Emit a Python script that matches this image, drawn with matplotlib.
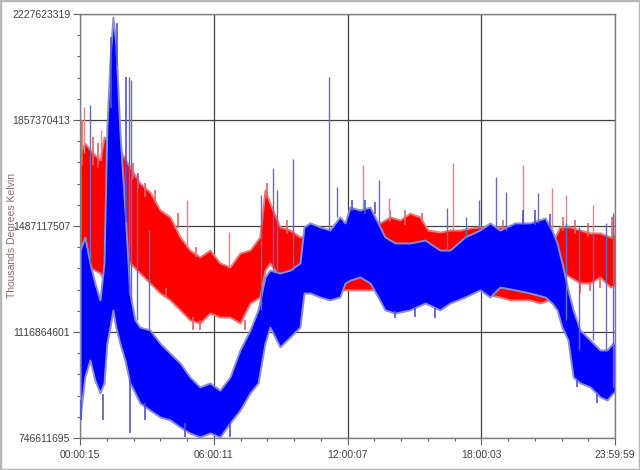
import matplotlib
matplotlib.use("Agg")
import matplotlib.pyplot as plt
import numpy as np
from matplotlib.ticker import AutoMinorLocator
from matplotlib.patches import Rectangle

# ---- data (time in hours, values in millions) ----
red_t = [0.01, 0.22, 0.45, 0.67, 0.90, 1.08, 1.35, 1.79, 2.24, 2.69, 3.14, 3.59, 4.04, 4.49,
         4.93, 5.38, 5.83, 6.28, 6.73, 7.18, 7.63, 8.07, 8.30, 8.52, 8.97, 9.42, 9.87, 10.32,
         10.77, 11.21, 11.66, 12.11, 12.56, 13.01, 13.46, 13.91, 14.36, 14.80, 15.25, 15.61,
         16.15, 16.60, 17.05, 17.49, 17.94, 18.39, 18.84, 19.29, 19.74, 20.19, 20.63, 21.08,
         21.31, 21.53, 21.98, 22.43, 22.88, 23.33, 23.78, 24.0]
red_high = [1742, 1777, 1753, 1735, 1718, 1798, 1777, 1753, 1693, 1637, 1606, 1543, 1519, 1449,
            1403, 1379, 1403, 1358, 1344, 1393, 1403, 1449, 1613, 1567, 1484, 1473, 1449, 1456,
            1456, 1449, 1473, 1491, 1491, 1491, 1498, 1519, 1508, 1532, 1519, 1473,
            1466, 1473, 1473, 1480, 1484, 1484, 1484, 1480, 1480, 1473, 1473, 1466,
            1449, 1484, 1484, 1473, 1463, 1463, 1449, 1456]
red_low = [1403, 1361, 1340, 1333, 1323, 1298, 1403, 1428, 1358, 1323, 1288, 1253, 1229, 1194,
           1159, 1148, 1183, 1169, 1169, 1148, 1218, 1239, 1333, 1358, 1309, 1298, 1298, 1281,
           1264, 1264, 1264, 1264, 1264, 1264, 1264, 1281, 1281, 1288, 1288, 1316,
           1298, 1281, 1281, 1264, 1264, 1246, 1239, 1229, 1229, 1229, 1218, 1229,
           1288, 1333, 1309, 1288, 1288, 1309, 1274, 1281]

blue_t = [0.01, 0.22, 0.45, 0.67, 0.90, 1.08, 1.21, 1.35, 1.48, 1.61, 1.79, 2.02, 2.24, 2.47,
          2.69, 3.14, 3.59, 4.04, 4.49, 4.93, 5.38, 5.83, 6.28, 6.73, 7.18, 7.63, 7.99, 8.30,
          8.52, 8.97, 9.42, 9.87, 10.05, 10.32, 10.77, 11.21, 11.66, 11.89, 12.11, 12.56, 13.01,
          13.37, 13.68, 14.13, 14.80, 15.48, 16.15, 16.60, 17.27, 17.94, 18.39, 18.84, 19.51,
          20.19, 20.86, 21.17, 21.40, 21.62, 21.89, 22.12, 22.43, 22.88, 23.33, 23.64, 23.91, 24.0]
blue_high = [1403, 1449, 1358, 1288, 1229, 1358, 1833, 2067, 2217, 2126, 1822, 1543, 1253, 1159,
             1134, 1124, 1078, 1043, 1009, 960, 925, 939, 914, 960, 1054, 1124, 1194, 1309,
             1333, 1323, 1333, 1358, 1484, 1498, 1484, 1473, 1519, 1498, 1553, 1543, 1553,
             1498, 1449, 1428, 1428, 1438, 1403, 1403, 1449, 1473, 1498, 1473, 1498,
             1498, 1515, 1473, 1428, 1358, 1264, 1194, 1124, 1089, 1054, 1054, 1078, 1078]
blue_low = [820, 960, 1019, 949, 904, 939, 1078, 1134, 1194, 1134, 1078, 1019, 939, 904,
            869, 844, 820, 810, 785, 764, 750, 764, 750, 799, 844, 904, 939, 1078,
            1134, 1065, 1099, 1134, 1253, 1253, 1239, 1229, 1239, 1288, 1298, 1309, 1288,
            1239, 1194, 1183, 1194, 1218, 1194, 1218, 1239, 1264, 1239, 1274, 1264,
            1253, 1239, 1218, 1194, 1134, 1089, 960, 939, 925, 890, 879, 904, 904]

# short jagged excursions at the band edges: time, low end, high end
red_fringe_t = [0.09, 0.58, 0.81, 1.17, 2.38, 2.60, 2.92, 3.36, 3.86, 4.40, 5.07, 5.20, 5.38,
                7.40, 8.39, 9.29, 13.91, 14.58, 15.34, 18.98, 21.67, 22.21, 22.43, 22.79,
                22.88, 23.33, 23.87]
red_fringe_lo = [1700, 1700, 1690, 1288, 1650, 1620, 1590, 1570, 1239, 1480, 1124, 1380, 1124,
                 1124, 1580, 1460, 1500, 1490, 1500, 1470, 1470, 1460, 1253, 1450,
                 1260, 1270, 1440]
red_fringe_hi = [1857, 1798, 1777, 1340, 1707, 1672, 1637, 1613, 1270, 1532, 1170, 1414, 1160,
                 1160, 1637, 1508, 1543, 1543, 1532, 1508, 1519, 1508, 1290, 1498,
                 1290, 1309, 1519]

blue_fringe_t = [0.03, 1.03, 1.39, 1.66, 2.06, 2.24, 2.92, 4.71, 6.73, 12.20, 12.79, 13.23,
                 14.13, 15.03, 15.93, 19.87, 20.41, 21.08, 22.30, 23.19]
blue_fringe_lo = [810, 810, 1900, 2050, 1500, 764, 810, 750, 750, 1540, 1530, 1530,
                  1166, 1170, 1166, 1490, 1490, 1480, 925, 870]
blue_fringe_hi = [880, 900, 2147, 2196, 2008, 950, 870, 800, 800, 1578, 1578, 1570,
                  1190, 1200, 1200, 1543, 1543, 1530, 950, 900]

# isolated spikes: time, top, base
blue_spike_t = [0.45, 2.20, 2.29, 2.56, 3.10, 8.12, 8.66, 8.84, 9.56, 11.17, 11.53, 13.41,
                16.46, 17.32, 17.90, 18.66, 19.11, 20.55, 21.80, 22.39, 23.01, 23.60, 23.91]
blue_spike_top = [1910, 2008, 1997, 1672, 1473, 1595, 1690, 1613, 1721, 2008, 1623, 1648,
                  1550, 1519, 1578, 1658, 1606, 1602, 1498, 1484, 1463, 1498, 1532]
blue_spike_base = [1358, 1253, 1229, 1159, 1124, 1194, 1333, 1323, 1333, 1473, 1519, 1498,
                   1403, 1449, 1473, 1484, 1473, 1498, 1159, 1054, 1089, 1054, 925]

red_spike_t = [0.18, 0.94, 4.80, 6.68, 12.70, 13.86, 16.73, 19.87, 21.17, 21.80, 23.01, 23.91]
red_spike_top = [1903, 1822, 1578, 1466, 1700, 1585, 1707, 1700, 1620, 1595, 1560, 1526]
red_spike_base = [1742, 1718, 1421, 1344, 1358, 1519, 1473, 1480, 1466, 1484, 1463, 1456]

y_ticks = [746611695, 1116864601, 1487117507, 1857370413, 2227623319]
x_tick_secs = [15, 21611, 43207, 64803, 86399]
x_tick_labels = ["00:00:15", "06:00:11", "12:00:07", "18:00:03", "23:59:59"]
y_label = "Thousands Degrees Kelvin"

M = 1e6

plt.rcParams['font.family'] = ['Liberation Sans', 'DejaVu Sans']
fig = plt.figure(figsize=(6.4, 4.7), dpi=100)
fig.patch.set_facecolor('white')
fig.patches.append(Rectangle((0, 0), 1, 1, transform=fig.transFigure, fill=False,
                             edgecolor='#b8b8b8', linewidth=2.5))

ax = fig.add_axes([80/640, 32/470, 535/640, 424/470])
ax.set_facecolor('white')

# red series
ax.fill_between(np.array(red_t), np.array(red_low) * M, np.array(red_high) * M,
                facecolor='#ff0000', edgecolor='#e47a7a', linewidth=1.4, zorder=2)
ax.vlines(red_fringe_t, np.array(red_fringe_lo) * M, np.array(red_fringe_hi) * M,
          color='#e86060', linewidth=1.2, zorder=2.2)
ax.vlines(red_spike_t, np.array(red_spike_base) * M, np.array(red_spike_top) * M,
          color='#d88888', linewidth=1.0, zorder=2.5)

# blue series
ax.fill_between(np.array(blue_t), np.array(blue_low) * M, np.array(blue_high) * M,
                facecolor='#0000ff', edgecolor='#8c8cd0', linewidth=1.4, zorder=3)
ax.vlines(blue_fringe_t, np.array(blue_fringe_lo) * M, np.array(blue_fringe_hi) * M,
          color='#5050d8', linewidth=1.2, zorder=3.2)
ax.vlines(blue_spike_t, np.array(blue_spike_base) * M, np.array(blue_spike_top) * M,
          color='#6a6ac4', linewidth=1.0, zorder=3.5)

ax.set_xlim(x_tick_secs[0] / 3600, x_tick_secs[-1] / 3600)
ax.set_ylim(y_ticks[0], y_ticks[-1])

ax.set_xticks([s / 3600 for s in x_tick_secs])
ax.set_xticklabels(x_tick_labels)
ax.set_yticks(y_ticks)
ax.set_yticklabels([str(v) for v in y_ticks])
ax.xaxis.set_minor_locator(AutoMinorLocator(5))
ax.yaxis.set_minor_locator(AutoMinorLocator(5))

ax.grid(True, which='major', color='#404040', linewidth=0.9, zorder=1)
ax.set_axisbelow(True)
for s in ax.spines.values():
    s.set_color('#808080')
    s.set_linewidth(1.0)

ax.tick_params(axis='both', which='major', direction='out', length=5, width=0.8,
               color='#606060', labelsize=7.5, labelcolor='#404040', pad=2)
ax.tick_params(axis='both', which='minor', direction='out', length=2, width=0.8,
               color='#606060')
ax.tick_params(axis='x', which='major', pad=4)

fig.text(12/640, 0.5, y_label, rotation=90, va='center', ha='center',
         fontsize=7.5, color='#906868')

fig.savefig('out.png', dpi=100)
